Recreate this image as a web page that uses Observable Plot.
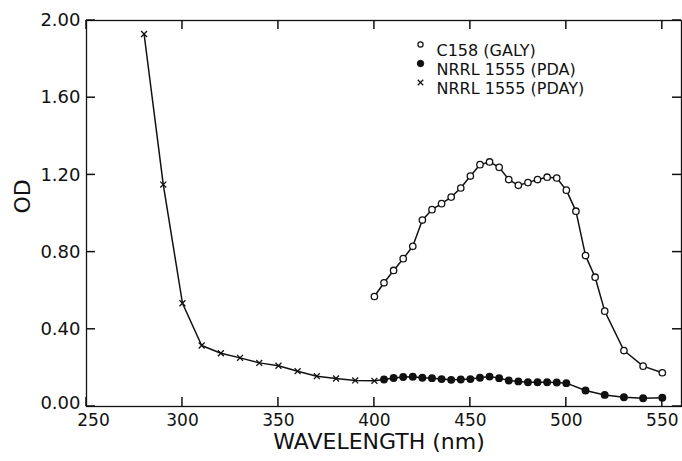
<!DOCTYPE html>
<html><head><meta charset="utf-8">
<script src="https://cdn.jsdelivr.net/npm/d3@7"></script>
<script src="https://cdn.jsdelivr.net/npm/@observablehq/plot@0.6"></script>
<style>body{margin:0;background:#fff;overflow:hidden}</style>
</head><body><div id="chart"></div>
<script>
// C158 (GALY) — open circles
const galyWavelength = [400,405,410,415,420,425,430,435,440,445,450,455,460,465,470,475,480,485,490,495,500,505,510,515,520,530,540,550];
const galyOD = [0.57,0.641,0.705,0.766,0.83,0.966,1.02,1.051,1.085,1.132,1.194,1.253,1.267,1.239,1.176,1.146,1.160,1.176,1.188,1.184,1.121,1.012,0.782,0.670,0.494,0.290,0.209,0.175];
// NRRL 1555 (PDA) — filled circles
const pdaWavelength = [405,410,415,420,425,430,435,440,445,450,455,460,465,470,475,480,485,490,495,500,510,520,530,540,550];
const pdaOD = [0.140,0.148,0.153,0.154,0.149,0.147,0.142,0.138,0.140,0.142,0.149,0.155,0.147,0.135,0.130,0.126,0.126,0.126,0.124,0.121,0.083,0.060,0.048,0.043,0.045];
// NRRL 1555 (PDAY) — crosses
const pdayWavelength = [280,290,300,310,320,330,340,350,360,370,380,390,400];
const pdayOD = [1.93,1.15,0.535,0.316,0.276,0.252,0.226,0.211,0.183,0.157,0.145,0.135,0.133];

const xTicks = [250,300,350,400,450,500,550];
const yTicks = [0,0.4,0.8,1.2,1.6,2.0];
const legendLabels = ["C158 (GALY)", "NRRL 1555 (PDA)", "NRRL 1555 (PDAY)"];

const galy = galyWavelength.map((w,i) => ({w, od: galyOD[i]}));
const pda = pdaWavelength.map((w,i) => ({w, od: pdaOD[i]}));
const pday = pdayWavelength.map((w,i) => ({w, od: pdayOD[i]}));
const pdaLine = [pday[pday.length-1], ...pda];

const W = 682, H = 461, mL = 86, mR = 1, mT = 20, mB = 55;
const xDomain = [250, 560], yDomain = [0, 2];
const tickPx = 9;

const ink = "#111";
const legendMarks = [];
const legendSymbols = [
  {symbol: "circle", fill: "white", stroke: ink, r: 2.6, strokeWidth: 1.2},
  {symbol: "circle", fill: ink, stroke: ink, r: 3.2, strokeWidth: 1},
  {symbol: "times", fill: "none", stroke: ink, r: 2.6, strokeWidth: 1.2}
];
legendLabels.forEach((lab, i) => {
  const dy = 24 + i * 19;
  legendMarks.push(Plot.dot([lab], {frameAnchor: "top-left", dx: 334, dy, ...legendSymbols[i]}));
  legendMarks.push(Plot.text([lab], {frameAnchor: "top-left", dx: 350, dy, text: d => d, textAnchor: "start", fontSize: 16, fill: ink}));
});

const chart = Plot.plot({
  width: W,
  height: H,
  marginLeft: mL,
  marginRight: mR,
  marginTop: mT,
  marginBottom: mB,
  style: {fontFamily: "DejaVu Sans", background: "white", color: ink},
  x: {domain: xDomain},
  y: {domain: yDomain},
  marks: [
    Plot.frame({stroke: ink, strokeWidth: 1.3}),
    Plot.axisX({ticks: xTicks.slice(1), anchor: "bottom", tickSize: 0, tickPadding: 7, fontSize: 17, label: null, fill: ink}),
    Plot.axisX({ticks: xTicks.slice(0, 1), anchor: "bottom", tickSize: 0, tickPadding: 7, dx: 7, fontSize: 17, label: null, fill: ink}),
    Plot.axisY({ticks: yTicks.slice(1), anchor: "left", tickSize: 0, tickPadding: 6, fontSize: 18, label: null, tickFormat: d3.format(".2f"), fill: ink}),
    Plot.axisY({ticks: yTicks.slice(0, 1), anchor: "left", tickSize: 0, tickPadding: 6, dy: -3, fontSize: 18, label: null, tickFormat: d3.format(".2f"), fill: ink}),
    Plot.text(["WAVELENGTH (nm)"], {frameAnchor: "bottom", dy: 42, dx: -5, text: d => d, fontSize: 22, fill: ink}),
    Plot.text(["OD"], {frameAnchor: "left", dx: -64, text: d => d, rotate: -90, fontSize: 22, fill: ink}),
    Plot.line(pday, {x: "w", y: "od", stroke: ink, strokeWidth: 1.5}),
    Plot.line(pdaLine, {x: "w", y: "od", stroke: ink, strokeWidth: 1.5}),
    Plot.line(galy, {x: "w", y: "od", stroke: ink, strokeWidth: 1.5}),
    Plot.dot(pday, {x: "w", y: "od", symbol: "times", r: 2.8, stroke: ink, strokeWidth: 1.3}),
    Plot.dot(pda, {x: "w", y: "od", r: 3.2, fill: ink, stroke: ink}),
    Plot.dot(galy, {x: "w", y: "od", r: 3.2, fill: "white", stroke: ink, strokeWidth: 1.3}),
    ...legendMarks
  ]
});

// inward tick marks on all four sides, positioned with Plot's own scales
const sx = chart.scale("x"), sy = chart.scale("y");
const x0 = sx.apply(xDomain[0]), x1 = sx.apply(xDomain[1]);
const y0 = sy.apply(yDomain[0]), y1 = sy.apply(yDomain[1]);
const g = d3.select(chart).append("g").attr("stroke", ink).attr("stroke-width", 1.5);
xTicks.forEach(t => {
  const px = sx.apply(t);
  g.append("line").attr("x1", px).attr("x2", px).attr("y1", y0).attr("y2", y0 - tickPx);
  g.append("line").attr("x1", px).attr("x2", px).attr("y1", y1).attr("y2", y1 + tickPx);
});
yTicks.forEach(t => {
  const py = sy.apply(t);
  g.append("line").attr("y1", py).attr("y2", py).attr("x1", x0).attr("x2", x0 + tickPx);
  g.append("line").attr("y1", py).attr("y2", py).attr("x1", x1).attr("x2", x1 - tickPx);
});
document.getElementById("chart").appendChild(chart);
</script>
</body></html>
